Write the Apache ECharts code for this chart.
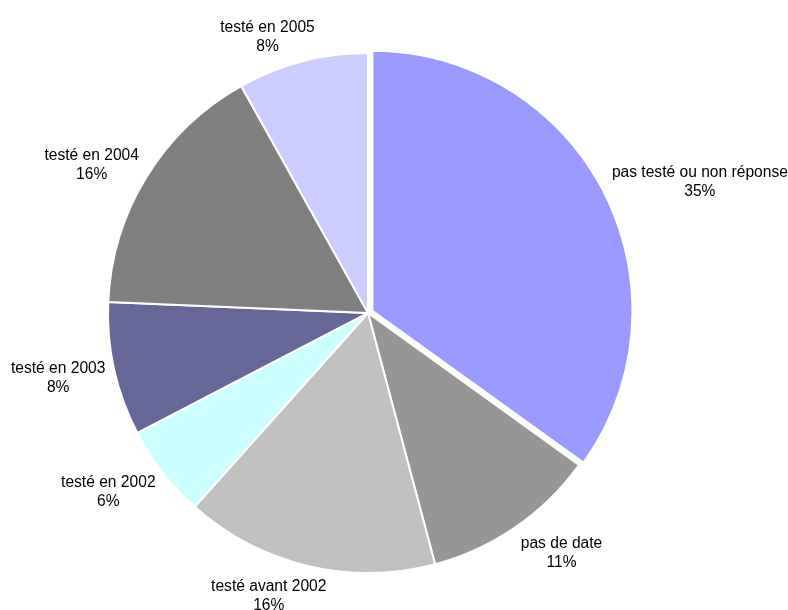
<!DOCTYPE html>
<html>
<head>
<meta charset="utf-8">
<script src="https://cdn.jsdelivr.net/npm/echarts@6/dist/echarts.min.js"></script>
<style>html,body{margin:0;padding:0;background:#fff}#c{width:788px;height:610px}</style>
</head>
<body>
<div id="c"></div>
<script>
const categories = ['pas testé ou non réponse', 'pas de date', 'testé avant 2002', 'testé en 2002', 'testé en 2003', 'testé en 2004', 'testé en 2005'];
const values = [34.9, 10.9, 15.75, 5.75, 8.3, 16.2, 8.1];
const colors = ['#9999FF', '#969696', '#C0C0C0', '#CCFFFF', '#666699', '#808080', '#CCCCFF'];
const exploded = [true, false, false, false, false, false, false];

const CX = 368, CY = 313, R = 260, OFFSET = 5, LABEL_DIST = 9;
const FONT_SIZE = 15.6, LINE_H = 19;
const FONT_FAMILY = 'Liberation Sans, Arial, sans-serif';
const total = values.reduce((a, b) => a + b, 0);
const mids = [];
let acc = 0;
values.forEach(v => { mids.push((acc + v / 2) / total * 2 * Math.PI); acc += v; });
const ux = mids.map(a => Math.sin(a)), uy = mids.map(a => -Math.cos(a));
const explodedCenter = i => exploded[i] ? [CX + ux[i] * OFFSET, CY + uy[i] * OFFSET] : [CX, CY];

const ctx = document.createElement('canvas').getContext('2d');
ctx.font = FONT_SIZE + 'px ' + FONT_FAMILY;
function labelText(i) { return categories[i] + '\n' + Math.round(values[i] / total * 100) + '%'; }
function labelWidth(i) { return Math.max(...labelText(i).split('\n').map(s => ctx.measureText(s).width)); }

const TRANSPARENT = { color: 'rgba(0,0,0,0)', borderWidth: 0 };
const expIdx = exploded.indexOf(true);
const expCenter = explodedCenter(expIdx);

const common = {
  type: 'pie',
  radius: R,
  startAngle: 90,
  clockwise: true,
  avoidLabelOverlap: false,
  silent: true,
  emphasis: { disabled: true },
  labelLine: { show: false }
};

const chart = echarts.init(document.getElementById('c'), null, { renderer: 'canvas' });
chart.setOption({
  animation: false,
  backgroundColor: '#ffffff',
  series: [
    Object.assign({}, common, {
      center: [CX, CY],
      itemStyle: { borderColor: '#ffffff', borderWidth: 2 },
      label: {
        show: true,
        position: 'outside',
        fontFamily: FONT_FAMILY,
        fontSize: FONT_SIZE,
        lineHeight: LINE_H,
        color: '#000',
        align: 'center',
        formatter: p => labelText(p.dataIndex)
      },
      labelLayout: function (params) {
        const i = params.dataIndex;
        const c = explodedCenter(i);
        const w = labelWidth(i), h = 2 * LINE_H;
        const d = R + LABEL_DIST;
        const px = c[0] + ux[i] * d, py = c[1] + uy[i] * d;
        const f = Math.max(-1, Math.min(1, ux[i] * 2.75));
        return { x: px + f * w / 2, y: py + uy[i] * h / 2 - h / 2 + 3, align: 'center', verticalAlign: 'top' };
      },
      data: categories.map((name, i) => ({
        name: name,
        value: values[i],
        itemStyle: exploded[i] ? TRANSPARENT : { color: colors[i] }
      }))
    }),
    Object.assign({}, common, {
      center: expCenter,
      itemStyle: { borderColor: '#ffffff', borderWidth: 2 },
      label: { show: false },
      data: categories.map((name, i) => ({
        name: name,
        value: values[i],
        itemStyle: exploded[i] ? { color: colors[i] } : TRANSPARENT
      }))
    })
  ]
});
</script>
</body>
</html>
